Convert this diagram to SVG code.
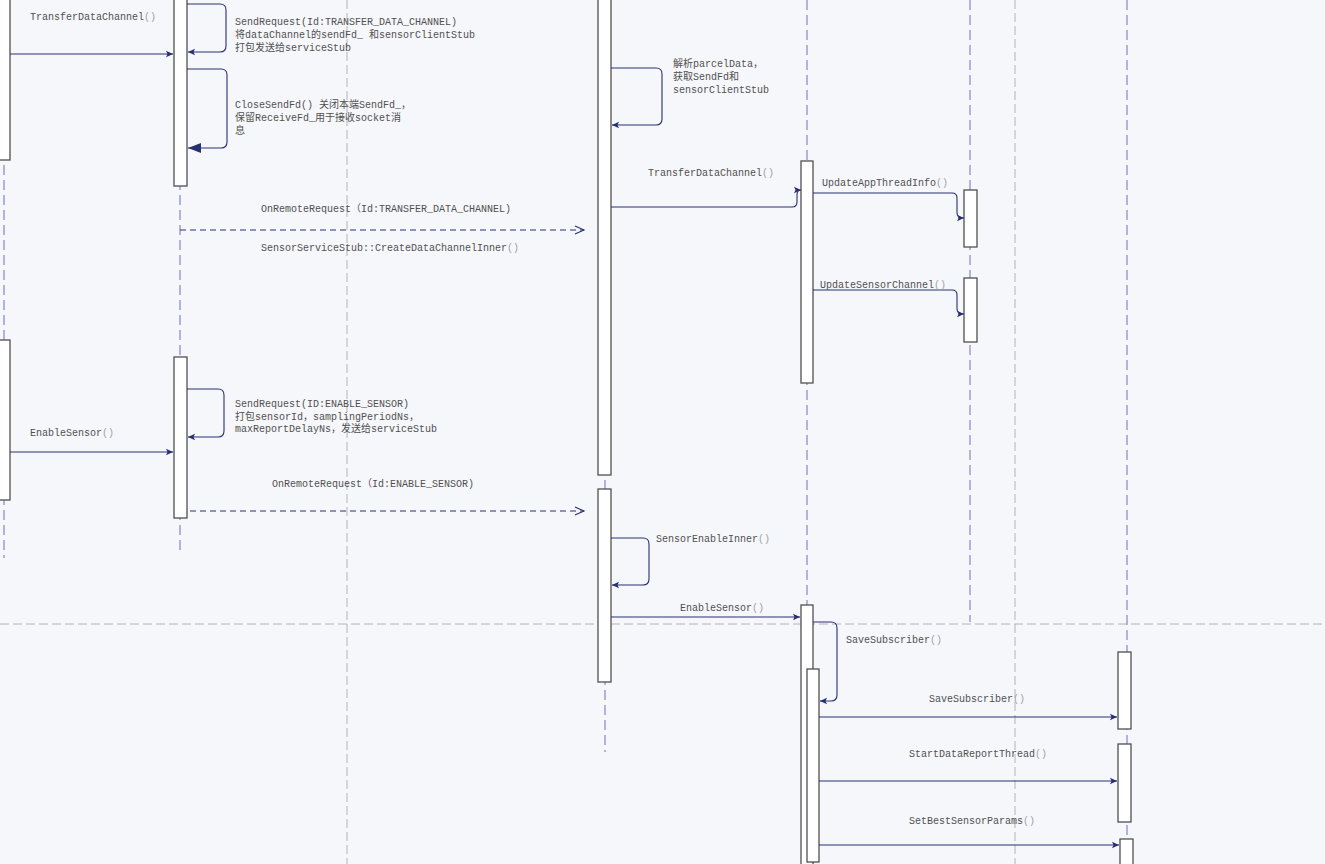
<svg xmlns="http://www.w3.org/2000/svg" width="1325" height="864" viewBox="0 0 1325 864">
<style>
.bg{fill:#f6f7fa}
.grid{stroke:#b4b4b8;stroke-width:1;stroke-dasharray:9,4;fill:none}
.life{stroke:#8a90cf;stroke-width:1.3;stroke-dasharray:10,5;fill:none}
.act{fill:#ffffff;stroke:#505050;stroke-width:1.3}
.msg{stroke:#283070;stroke-width:1.1;fill:none}
.dash{stroke:#283070;stroke-width:1.1;fill:none;stroke-dasharray:6,4}
text{font-family:"Liberation Mono","Noto Sans CJK SC",monospace;font-size:10px;fill:#505050}
.p{fill:#a0a0a8}
</style>
<defs>
<marker id="ah" markerWidth="8" markerHeight="8" refX="7" refY="4" orient="auto" markerUnits="userSpaceOnUse">
<path d="M0,0.8 L7,4 L0,7.2 L1.5,4 z" fill="#283070"/>
</marker>
<marker id="ahBig" markerWidth="14" markerHeight="12" refX="13" refY="6" orient="auto" markerUnits="userSpaceOnUse">
<path d="M0,1 L13,6 L0,11 z" fill="#283070"/>
</marker>
</defs>
<rect class="bg" x="0" y="0" width="1325" height="864"/>
<g id="frame">
<line class="grid" x1="347" y1="0" x2="347" y2="864"/>
<line class="grid" x1="1015" y1="0" x2="1015" y2="864"/>
<line class="grid" x1="0" y1="624" x2="1325" y2="624"/>
</g>
<g id="lifelines">
<line class="life" x1="4" y1="0" x2="4" y2="558"/>
<line class="life" x1="180" y1="0" x2="180" y2="550"/>
<line class="life" x1="605" y1="0" x2="605" y2="752"/>
<line class="life" x1="807" y1="0" x2="807" y2="864"/>
<line class="life" x1="970" y1="0" x2="970" y2="622"/>
<line class="life" x1="1127" y1="0" x2="1127" y2="864"/>
</g>
<g id="activations">
<rect class="act" x="-3" y="-2" width="13" height="162"/>
<rect class="act" x="-3" y="340" width="13" height="160"/>
<rect class="act" x="174" y="-2" width="13" height="188"/>
<rect class="act" x="174" y="357" width="13" height="161"/>
<rect class="act" x="598" y="-2" width="13" height="477"/>
<rect class="act" x="598" y="489" width="13" height="193"/>
<rect class="act" x="801" y="161" width="12" height="222"/>
<rect class="act" x="964" y="190" width="13" height="57"/>
<rect class="act" x="964" y="278" width="13" height="64"/>
<rect class="act" x="801" y="605" width="12" height="262"/>
<rect class="act" x="807" y="669" width="12" height="193"/>
<rect class="act" x="1118" y="652" width="13" height="77"/>
<rect class="act" x="1118" y="744" width="13" height="78"/>
<rect class="act" x="1120" y="839" width="13" height="30"/>
</g>
<g id="connectors">
<path class="msg" d="M10,54 H173" marker-end="url(#ah)"/>
<path class="msg" d="M187,4 H220 Q226,4 226,10 V46 Q226,52 220,52 H188" marker-end="url(#ah)"/>
<path class="msg" d="M187,69 H221 Q227,69 227,75 V142 Q227,148 221,148 H188" marker-end="url(#ahBig)"/>
<path class="dash" d="M180,230 H584"/>
<polyline class="msg" points="575,226 584,230 575,234"/>
<path class="msg" d="M611,68 H656 Q662,68 662,74 V119 Q662,125 656,125 H612" marker-end="url(#ah)"/>
<path class="msg" d="M611,207 H792 Q797,207 797,202 V195 Q797,190 801,190" marker-end="url(#ah)"/>
<path class="msg" d="M813,193 H952 Q957,193 957,198 V213 Q957,218 964,218" marker-end="url(#ah)"/>
<path class="msg" d="M813,290 H952 Q957,290 957,295 V309 Q957,314 964,314" marker-end="url(#ah)"/>
<path class="msg" d="M187,389 H218 Q224,389 224,395 V431 Q224,437 218,437 H188" marker-end="url(#ah)"/>
<path class="msg" d="M10,452 H173" marker-end="url(#ah)"/>
<path class="dash" d="M190,511 H584"/>
<polyline class="msg" points="575,507 584,511 575,515"/>
<path class="msg" d="M611,538 H643 Q649,538 649,544 V579 Q649,585 643,585 H612" marker-end="url(#ah)"/>
<path class="msg" d="M611,617 H800" marker-end="url(#ah)"/>
<path class="msg" d="M813,622 H831 Q837,622 837,628 V695 Q837,701 831,701 H820" marker-end="url(#ah)"/>
<path class="msg" d="M819,717 H1117" marker-end="url(#ah)"/>
<path class="msg" d="M819,781 H1117" marker-end="url(#ah)"/>
<path class="msg" d="M819,845 H1119" marker-end="url(#ah)"/>
</g>
<g id="labels">
<text x="30" y="20">TransferDataChannel<tspan class="p">()</tspan></text>
<text x="235" y="25">SendRequest(Id:TRANSFER_DATA_CHANNEL)</text>
<text x="235" y="38">将dataChannel的sendFd_ 和sensorClientStub</text>
<text x="235" y="51">打包发送给serviceStub</text>
<text x="235" y="108">CloseSendFd() 关闭本端SendFd_，</text>
<text x="235" y="121">保留ReceiveFd_用于接收socket消</text>
<text x="235" y="134">息</text>
<text x="261" y="212">OnRemoteRequest（Id:TRANSFER_DATA_CHANNEL)</text>
<text x="261" y="251">SensorServiceStub::CreateDataChannelInner<tspan class="p">()</tspan></text>
<text x="673" y="67">解析parcelData，</text>
<text x="673" y="80">获取SendFd和</text>
<text x="673" y="93">sensorClientStub</text>
<text x="648" y="176">TransferDataChannel<tspan class="p">()</tspan></text>
<text x="822" y="186">UpdateAppThreadInfo<tspan class="p">()</tspan></text>
<text x="820" y="288">UpdateSensorChannel<tspan class="p">()</tspan></text>
<text x="235" y="407">SendRequest(ID:ENABLE_SENSOR)</text>
<text x="235" y="420">打包sensorId，samplingPeriodNs，</text>
<text x="235" y="432">maxReportDelayNs，发送给serviceStub</text>
<text x="30" y="436">EnableSensor<tspan class="p">()</tspan></text>
<text x="272" y="487">OnRemoteRequest（Id:ENABLE_SENSOR)</text>
<text x="656" y="542">SensorEnableInner<tspan class="p">()</tspan></text>
<text x="680" y="611">EnableSensor<tspan class="p">()</tspan></text>
<text x="846" y="643">SaveSubscriber<tspan class="p">()</tspan></text>
<text x="929" y="702">SaveSubscriber<tspan class="p">()</tspan></text>
<text x="909" y="757">StartDataReportThread<tspan class="p">()</tspan></text>
<text x="909" y="824">SetBestSensorParams<tspan class="p">()</tspan></text>
</g>
</svg>
